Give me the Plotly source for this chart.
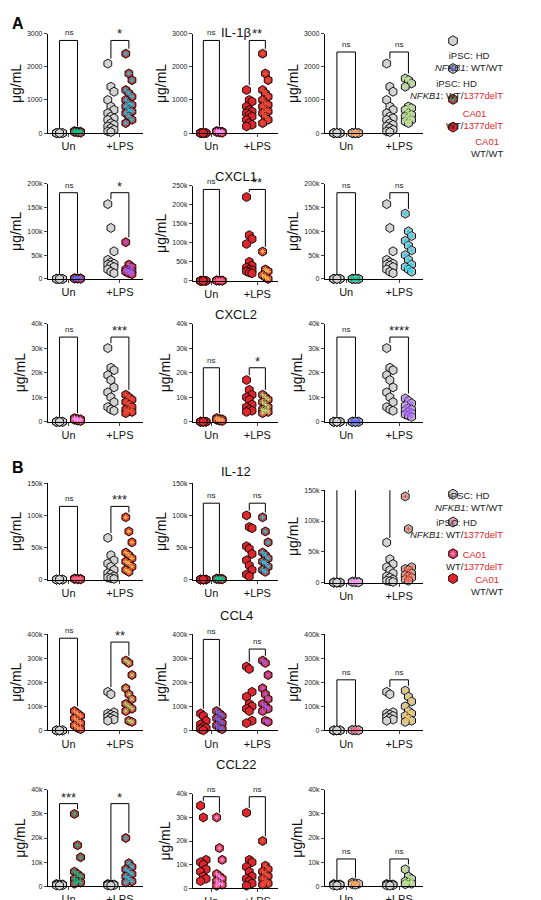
import plotly.graph_objects as go

W, H = 541, 900

# data: each panel holds 4 groups -> Un left, Un right, +LPS left, +LPS right
cytokines = ["IL-1β", "CXCL1", "CXCL2", "IL-12", "CCL4", "CCL22"]
ymax = [[3000, 3000, 3000], [200000, 250000, 200000], [40000, 40000, 40000],
        [150000, 150000, 150000], [400000, 400000, 400000], [40000, 40000, 40000]]
ydtick = [[1000, 1000, 1000], [50000, 50000, 50000], [10000, 10000, 10000],
          [50000, 50000, 50000], [100000, 100000, 100000], [10000, 10000, 10000]]

# column kinds: HD=iPSC HD WT/WT, HDM=iPSC HD WT/1377delT, CA=CA01 WT/WT, CAM=CA01 WT/1377delT
col_kinds = [("HD", "CAM"), ("CA", "CAM"), ("HD", "HDM")]

z8 = [0, 0, 0, 0, 0, 0, 0, 0]
il1b_hd = [2100, 1400, 1250, 1000, 800, 700, 600, 500, 450, 400, 300, 250, 200, 150, 100, 50, 30]
il1b_cam = [2400, 1800, 1600, 1300, 1200, 1100, 1000, 900, 850, 800, 700, 650, 600, 500, 400, 300]
il1b_ca = [1300, 1000, 950, 800, 700, 650, 600, 550, 500, 400, 300, 250, 200]
il1b_hdm = [1650, 1600, 1500, 1400, 800, 750, 700, 600, 550, 500, 450, 400, 350, 300]
cxcl1_hd = [157000, 107000, 58000, 40000, 35000, 32000, 30000, 28000, 25000, 20000, 15000, 12000]
cxcl1_cam = [77000, 30000, 25000, 20000, 18000, 16000, 15000, 12000, 10000]
cxcl1_ca = [220000, 120000, 110000, 97000, 50000, 40000, 35000, 30000, 28000, 25000, 22000, 20000]
cxcl1_cam2 = [77000, 30000, 25000, 15000, 10000, 5000]
cxcl1_hdm = [137000, 100000, 90000, 80000, 70000, 60000, 50000, 40000, 30000, 25000, 20000, 15000]
cxcl2_hd = [30000, 22000, 21000, 19000, 17000, 14000, 12000, 10000, 8000, 6000, 5000, 4500]
cxcl2_cam = [11000, 10000, 9000, 8000, 7000, 6000, 5000, 4500, 4000, 3500]
cxcl2_ca = [17000, 13000, 11000, 10000, 9000, 7000, 6000, 5000, 4500, 4000]
cxcl2_hdm = [9500, 8500, 7500, 6500, 5500, 5000, 4500, 4000, 3500, 3000, 2500, 2000]
il12_hd = [65000, 38000, 30000, 25000, 20000, 15000, 10000, 8000, 5000, 3000, 2000, 1000]
il12_cam = [97000, 75000, 58000, 42000, 38000, 33000, 28000, 25000, 20000, 15000, 12000]
il12_ca = [100000, 82000, 80000, 52000, 48000, 40000, 30000, 22000, 15000, 8000, 5000]
il12_hdm = [140000, 87000, 25000, 22000, 20000, 15000, 12000, 10000, 8000, 5000, 3000]
ccl4_un_cam = [80000, 70000, 60000, 50000, 40000, 30000, 20000, 10000, 5000]
ccl4_un_ca = [70000, 60000, 40000, 25000, 15000, 10000, 5000, 0]
ccl4_hd = [160000, 150000, 75000, 70000, 65000, 60000, 55000, 50000, 45000, 40000]
ccl4_cam = [290000, 280000, 230000, 175000, 150000, 130000, 110000, 100000, 90000, 80000, 40000, 35000]
ccl4_ca = [265000, 255000, 160000, 140000, 110000, 100000, 90000, 80000, 40000, 30000]
ccl4_hdm = [165000, 140000, 120000, 100000, 80000, 70000, 60000, 50000, 40000, 35000]
ccl22_hd = [900, 800, 700, 600, 500, 400, 300, 200]
ccl22_un_cam = [30000, 17000, 12000, 6000, 5000, 4000, 3000, 2000, 1500, 1000]
ccl22_lps_cam = [20000, 9500, 8000, 7000, 6000, 5000, 4000, 3000, 2000, 1500]
ccl22_un_ca = [35000, 30000, 12000, 11000, 10000, 8000, 7000, 5000, 4000, 3000]
ccl22_lps_ca = [32000, 12000, 11000, 9000, 7000, 5000, 4000, 3000, 2000, 1000]
ccl22_un_hdm = [1500, 1200, 1000, 800, 600]
ccl22_lps_hdm = [7000, 4000, 3000, 2000, 1500, 1000, 800]
small3 = [60, 50, 40, 30, 20, 10]
small_k = [1500, 1200, 1000, 800, 500, 300]

panels = [
    [[z8, small3, il1b_hd, il1b_cam], [z8, small3, il1b_ca, il1b_cam], [z8, z8, il1b_hd, il1b_hdm]],
    [[z8, small_k, cxcl1_hd, cxcl1_cam], [z8, small_k, cxcl1_ca, cxcl1_cam2], [z8, z8, cxcl1_hd, cxcl1_hdm]],
    [[z8, small_k, cxcl2_hd, cxcl2_cam], [z8, small_k, cxcl2_ca, cxcl2_cam], [z8, z8, cxcl2_hd, cxcl2_hdm]],
    [[z8, small_k, il12_hd, il12_cam], [z8, small_k, il12_ca, il12_cam], [z8, small_k, il12_hd, il12_hdm]],
    [[z8, ccl4_un_cam, ccl4_hd, ccl4_cam], [ccl4_un_ca, ccl4_un_cam, ccl4_ca, ccl4_cam], [z8, small_k, ccl4_hd, ccl4_hdm]],
    [[ccl22_hd, ccl22_un_cam, ccl22_hd, ccl22_lps_cam], [ccl22_un_ca, ccl22_un_cam, ccl22_lps_ca, ccl22_lps_cam],
     [ccl22_hd, ccl22_un_hdm, ccl22_hd, ccl22_lps_hdm]],
]

# bracket heights and labels (Un, +LPS)
brackets = [
    [[(2800, "ns"), (2800, "*")], [(2800, "ns"), (2800, "**")], [(2450, "ns"), (2450, "ns")]],
    [[(181000, "ns"), (181000, "*")], [(240000, "ns"), (240000, "**")], [(181000, "ns"), (181000, "ns")]],
    [[(34500, "ns"), (34500, "***")], [(22000, "ns"), (22000, "*")], [(34500, "ns"), (34500, "****")]],
    [[(114000, "ns"), (114000, "***")], [(119000, "ns"), (119000, "ns")], [(160000, "ns"), (160000, "ns")]],
    [[(383000, "ns"), (367000, "**")], [(378000, "ns"), (338000, "ns")], [(210000, "ns"), (210000, "ns")]],
    [[(34300, "***"), (34300, "*")], [(38800, "ns"), (38800, "ns")], [(11300, "ns"), (11300, "ns")]],
]

# pixel layout: (top pixel of max tick, pixel of zero) per row/col
row_px = [[(22, 122)] * 3, [(173, 269), (175, 271), (173, 269)], [(314, 413)] * 3,
          [(475, 572), (475, 572), (482, 575)], [(627, 724)] * 3, [(784, 881), (788, 883), (784, 881)]]
col_px = [(40, 135), (185, 270), (317, 415)]
title_y = [11, 156, 305, 463, 618, 768]

fill = {"HD": "#d3d3d3", "HDM": "#c4c4c4", "CA": "#e0262b", "CAM": "#d42a2a"}
RED = "#e0262b"

fig = go.Figure()
shapes, annots = [], []


def ax_ref(n):
    return ("x", "y") if n == 1 else (f"x{n}", f"y{n}")


def add_group(vals, center, kind, n):
    xr, yr = ax_ref(n)
    xs = [center + ((k % 3) - 1) * 0.12 for k in range(len(vals))]
    fig.add_trace(go.Scatter(x=xs, y=vals, mode="markers", xaxis=xr, yaxis=yr,
                             cliponaxis=False, showlegend=False, hoverinfo="y",
                             marker=dict(symbol="hexagon", size=9, color=fill[kind],
                                         line=dict(color="black", width=0.9))))
    if kind in ("HDM", "CAM"):
        fig.add_trace(go.Scatter(x=xs, y=vals, mode="markers", xaxis=xr, yaxis=yr,
                                 cliponaxis=False, showlegend=False, hoverinfo="skip",
                                 marker=dict(symbol="asterisk-open", size=5,
                                             line=dict(color="black", width=0.8))))


offs = [0.65, 1.35, 2.65, 3.35]
for r in range(6):
    for c in range(3):
        n = r * 3 + c + 1
        xr, yr = ax_ref(n)
        top, zero = row_px[r][c]
        x0, x1 = col_px[c]
        ym = ymax[r][c]
        kinds = col_kinds[c]
        groups = panels[r][c]
        for g in range(4):
            add_group(groups[g], offs[g], kinds[g % 2], n)
        pad = ym * 0.05
        for b in range(2):
            h, lab = brackets[r][c][b]
            xa, xb = offs[2 * b], offs[2 * b + 1]
            la = max(groups[2 * b]) + pad
            lb = max(groups[2 * b + 1]) + pad
            shapes.append(dict(type="path", xref=xr, yref=yr,
                               path=f"M {xa},{la} L {xa},{h} L {xb},{h} L {xb},{lb}",
                               line=dict(color="black", width=1)))
            ns = lab == "ns"
            annots.append(dict(x=(xa + xb) / 2, y=h, xref=xr, yref=yr, text=lab,
                               showarrow=False, yanchor="bottom", yshift=1 if ns else -3,
                               font=dict(size=8 if ns else 13, color="#222")))
        sfx = "" if n == 1 else str(n)
        fig.layout[f"xaxis{sfx}"] = dict(domain=[x0 / W, x1 / W], range=[0.2, 3.9],
                                         anchor=yr, tickvals=[1, 3], ticktext=["Un", "+LPS"],
                                         showline=True, linecolor="black", linewidth=1.2,
                                         ticks="outside", ticklen=3, showgrid=False, zeroline=False,
                                         tickfont=dict(size=11, color="#111"))
        fig.layout[f"yaxis{sfx}"] = dict(domain=[1 - zero / H, 1 - top / H], range=[0, ym],
                                         anchor=xr, dtick=ydtick[r][c], showline=True,
                                         linecolor="black", linewidth=1.2, ticks="outside",
                                         ticklen=3, showgrid=False, zeroline=False,
                                         tickfont=dict(size=7, color="#222"),
                                         title=dict(text="μg/mL", font=dict(size=14, color="#111"),
                                                    standoff=2))
    annots.append(dict(x=228 / W, y=1 - title_y[r] / H, xref="paper", yref="paper",
                       text=cytokines[r], showarrow=False, font=dict(size=13, color="#111")))

# legends
leg_labels = ["iPSC: HD<br><i>NFKB1</i>: WT/WT",
              f"iPSC: HD<br><i>NFKB1</i>: WT/<span style='color:{RED}'>1377delT</span>",
              f"<span style='color:{RED}'>CA01</span><br>WT/<span style='color:{RED}'>1377delT</span>",
              f"<span style='color:{RED}'>CA01</span><br>WT/WT"]
leg_kinds = ["HD", "HDM", "CAM", "CA"]
leg_rows = [[29, 57, 88, 116], [486, 514, 546, 571]]
for rows in leg_rows:
    for k in range(4):
        yy = rows[k]
        fig.add_trace(go.Scatter(x=[445], y=[yy], mode="markers", xaxis="x19", yaxis="y19",
                                 showlegend=False, hoverinfo="skip",
                                 marker=dict(symbol="hexagon", size=10, color=fill[leg_kinds[k]],
                                             line=dict(color="black", width=0.9))))
        if leg_kinds[k] in ("HDM", "CAM"):
            fig.add_trace(go.Scatter(x=[445], y=[yy], mode="markers", xaxis="x19", yaxis="y19",
                                     showlegend=False, hoverinfo="skip",
                                     marker=dict(symbol="asterisk-open", size=6,
                                                 line=dict(color="black", width=0.8))))
        annots.append(dict(x=497 / W, y=1 - (yy + 7) / H, xref="paper", yref="paper",
                           text=leg_labels[k], showarrow=False, align="center",
                           font=dict(size=9.5, color="#222")))

fig.layout["xaxis19"] = dict(domain=[430 / W, 460 / W], range=[430, 460], visible=False, fixedrange=True)
fig.layout["yaxis19"] = dict(domain=[0, 1], range=[H, 0], visible=False, fixedrange=True, anchor="x19")

annots.append(dict(x=2 / W, y=1 - 1 / H, xref="paper", yref="paper", text="<b>A</b>",
                   showarrow=False, xanchor="left", yanchor="top", font=dict(size=16, color="black")))
annots.append(dict(x=2 / W, y=1 - 448 / H, xref="paper", yref="paper", text="<b>B</b>",
                   showarrow=False, xanchor="left", yanchor="top", font=dict(size=16, color="black")))

fig.update_layout(width=W, height=H, margin=dict(l=0, r=0, t=0, b=0),
                  plot_bgcolor="rgba(0,0,0,0)", paper_bgcolor="white",
                  font=dict(family="Liberation Sans, Arial, sans-serif"),
                  shapes=shapes, annotations=annots)

fig.write_html("out.html")
